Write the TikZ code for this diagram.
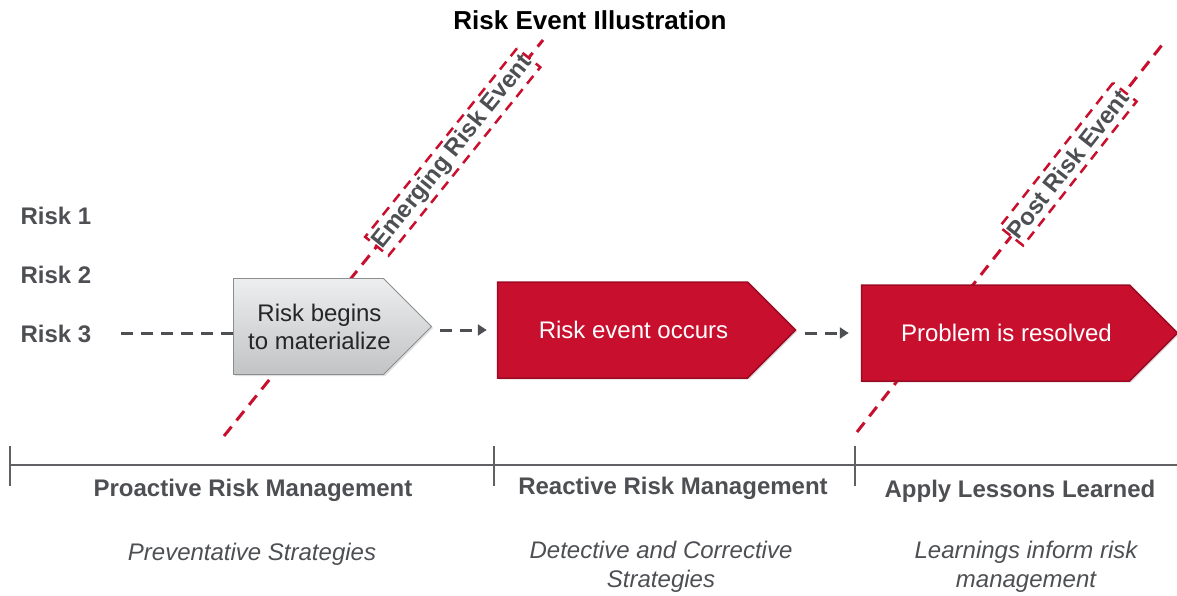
\documentclass[tikz,border=0pt]{standalone}
\usepackage{fontspec}
\setmainfont{Liberation Sans}
\usetikzlibrary{arrows.meta,shapes.symbols,shadows}

\definecolor{riskred}{HTML}{C8102E}
\definecolor{riskdark}{HTML}{9C0B23}
\definecolor{slate}{HTML}{4D4F53}
\definecolor{boxtop}{HTML}{EDEEEF}
\definecolor{boxbot}{HTML}{C2C3C5}
\definecolor{boxline}{HTML}{8C8D8F}

% text inside a phase sits a bit right of the body centre
\newcommand{\offtext}[1]{\makebox[0pt]{\hspace*{22pt}#1}}

\tikzset{
  phase/.style={signal, signal to=east, signal pointer angle=90, inner sep=0pt,
    minimum height=96pt, align=center, font=\fontsize{24}{28}\selectfont,
    drop shadow={shadow xshift=1.5pt, shadow yshift=-1.5pt, opacity=0.25}},
  redphase/.style={phase, fill=riskred, draw=riskdark, line width=1.5pt, text=white, minimum width=298pt},
  greyphase/.style={phase, top color=boxtop, bottom color=boxbot, draw=boxline, line width=0.8pt,
    text=black!85, minimum width=198pt},
  riskname/.style={anchor=base west, text=slate, font=\bfseries\fontsize{24}{28}\selectfont},
  heading/.style={text=slate, font=\bfseries\fontsize{24}{28}\selectfont},
  strategy/.style={text=slate, align=center, font=\itshape\fontsize{24}{29}\selectfont},
  eventline/.style={riskred, line width=3pt, dash pattern=on 12pt off 8pt},
  eventtag/.style={sloped, draw=riskred, fill=white, line width=2.5pt, dash pattern=on 10pt off 7pt,
    text=slate, font=\bfseries\fontsize{24}{28}\selectfont, inner xsep=1pt, inner ysep=3pt,
    minimum height=30pt},
  flow/.style={slate, line width=3pt, dash pattern=on 12pt off 8pt},
  flowarrow/.style={flow, -{Triangle[length=9pt,width=11pt]}},
  timeline/.style={slate!90, line width=1.6pt},
}

\begin{document}
\begin{tikzpicture}[x=1pt, y=-1pt]
\useasboundingbox (0,0) rectangle (1177,596);

\node[font=\bfseries\fontsize{26}{30}\selectfont] (title) at (590,20) {Risk Event Illustration};

% risks on the left
\node[riskname] (r1) at (17,224) {Risk 1};
\node[riskname] (r2) at (17,283) {Risk 2};
\node[riskname] (r3) at (17,342) {Risk 3};

% event lines (under the boxes)
\draw[eventline] (224,436) -- node[eventtag, pos=0.717] (emerging) {Emerging Risk Event} (543,40);
\draw[eventline] (857,432) -- node[eventtag, pos=0.692] (post) {Post Risk Event} (1162,45);

% phases
\node[greyphase] (mat) at (308.5,326.5) {\offtext{Risk begins}\\\offtext{to materialize}};
\node[redphase] (occurs) at (622.5,330) {\offtext{Risk event occurs}};
\node[redphase, minimum width=316pt] (resolved) at (995.5,333) {\offtext{Problem is resolved}};

% flow
\draw[flow, shorten <=26pt] (r3.east) -- (r3.east -| mat.west);
\draw[flowarrow, shorten <=8pt, shorten >=10pt] (mat.east |- occurs.west) -- (occurs.west);
\draw[flowarrow, shorten <=8pt, shorten >=12pt] (occurs.east |- resolved.west) -- (resolved.west);

% timeline
\draw[timeline] (10,465) -- (1177,465);
\foreach \x in {10,494,855}
  \draw[timeline] (\x,446) -- (\x,486);

\node[heading] (pro) at (253,490) {Proactive Risk Management};
\node[heading] (rea) at (673,488) {Reactive Risk Management};
\node[heading] (les) at (1020,491) {Apply Lessons Learned};

\node[strategy] (prev) at (252,554) {Preventative Strategies};
\node[strategy] (det) at (661,567) {Detective and Corrective\\Strategies};
\node[strategy] (learn) at (1026,567) {Learnings inform risk\\management};
\end{tikzpicture}
\end{document}
